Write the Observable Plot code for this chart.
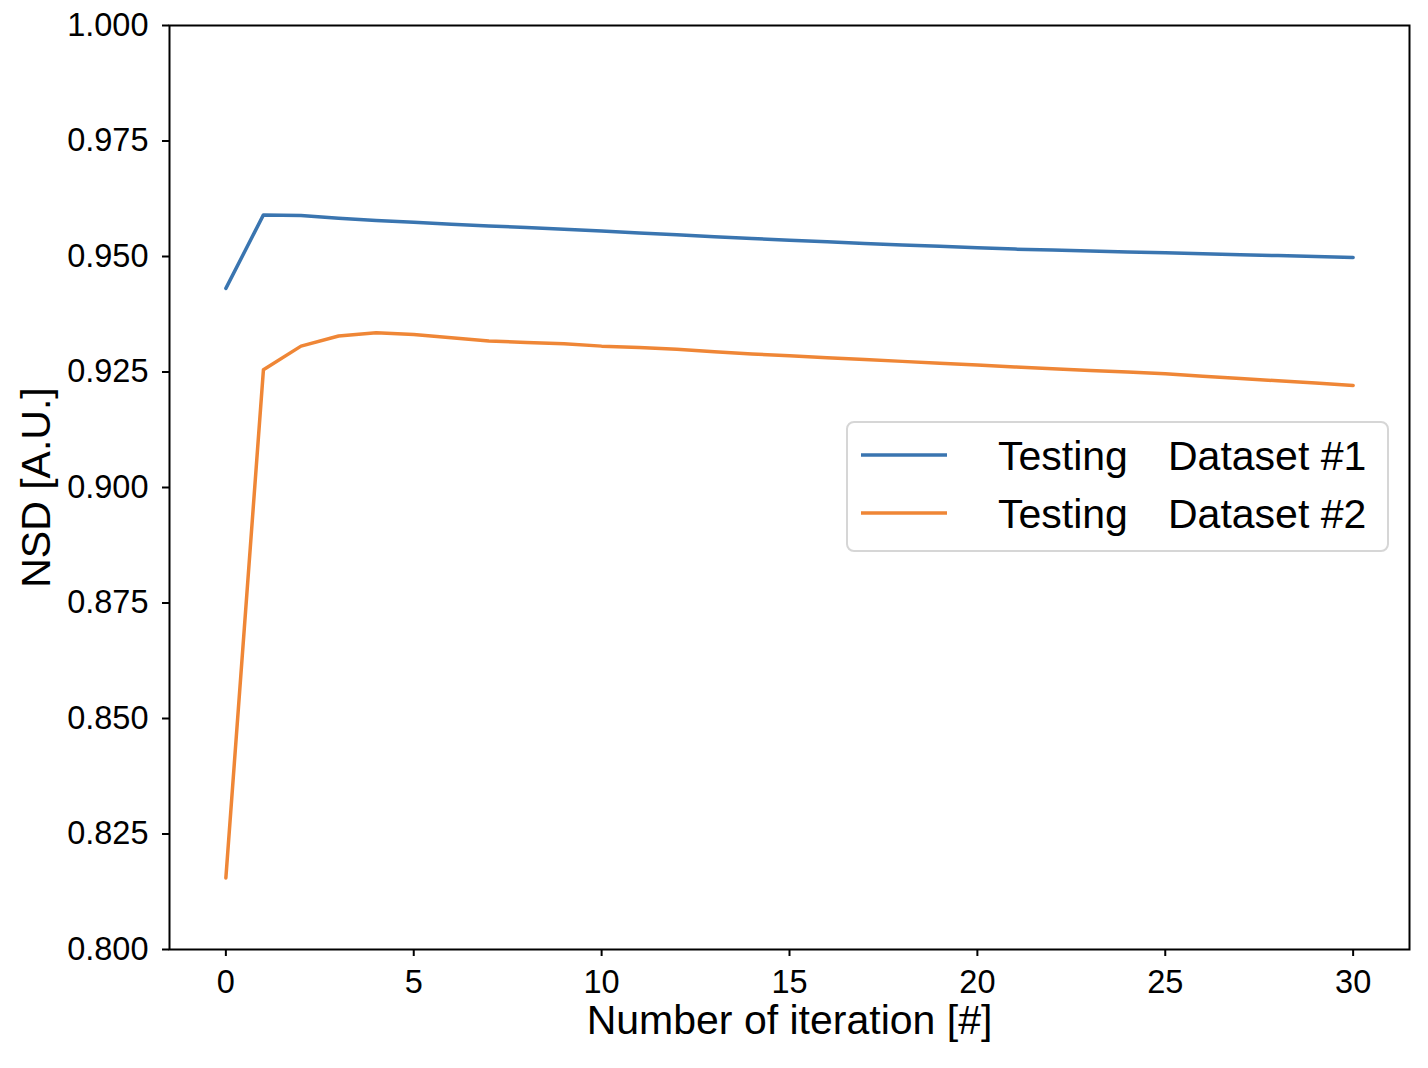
<!DOCTYPE html>
<html>
<head>
<meta charset="utf-8">
<script src="https://cdn.jsdelivr.net/npm/d3@7"></script>
<script src="https://cdn.jsdelivr.net/npm/@observablehq/plot@0.6"></script>
<style>
  html, body { margin: 0; padding: 0; background: #fff; }
  #wrap { position: relative; width: 1428px; height: 1068px; font-family: "Liberation Sans", Arial, sans-serif; }
  #legend { position: absolute; left: 0; top: 0; pointer-events: none; }
</style>
</head>
<body>
<div id="wrap"></div>
<script>
const iterations = d3.range(0, 31);
const nsdDataset1 = [0.9431, 0.9590, 0.9589, 0.9583, 0.9578, 0.9574, 0.9570, 0.9566, 0.9563, 0.9559, 0.9555,
  0.9551, 0.9547, 0.9543, 0.9539, 0.9535, 0.9532, 0.9528, 0.9525, 0.9522, 0.9519,
  0.9516, 0.9514, 0.9512, 0.9510, 0.9508, 0.9506, 0.9504, 0.9502, 0.9500, 0.9498];
const nsdDataset2 = [0.8155, 0.9255, 0.9306, 0.9328, 0.9335, 0.9331, 0.9324, 0.9317, 0.9314, 0.9311, 0.9306,
  0.9303, 0.9299, 0.9294, 0.9289, 0.9285, 0.9281, 0.9277, 0.9273, 0.9269, 0.9265,
  0.9261, 0.9257, 0.9253, 0.9250, 0.9246, 0.9241, 0.9236, 0.9231, 0.9226, 0.9221];
const seriesNames = ["Testing Dataset #1", "Testing Dataset #2"];
const legendFirst = ["Testing", "Testing"];
const legendSecond = ["Dataset #1", "Dataset #2"];
const seriesColors = ["#3a75b0", "#ef8636"];
const yTicks = [0.800, 0.825, 0.850, 0.875, 0.900, 0.925, 0.950, 0.975, 1.000];
const xTicks = [0, 5, 10, 15, 20, 25, 30];
const xLabel = "Number of iteration [#]";
const yLabel = "NSD [A.U.]";

const rows = [];
iterations.forEach((it, i) => {
  rows.push({iter: it, nsd: nsdDataset1[i], series: seriesNames[0]});
  rows.push({iter: it, nsd: nsdDataset2[i], series: seriesNames[1]});
});

const W = 1428, H = 1068;
const mL = 169, mR = 19, mT = 25, mB = 119;

const chart = Plot.plot({
  width: W, height: H,
  marginLeft: mL, marginRight: mR, marginTop: mT, marginBottom: mB,
  style: {fontFamily: "Liberation Sans, Arial, sans-serif", background: "#fff", color: "#000"},
  x: {domain: [-1.5, 31.5]},
  y: {domain: [0.8, 1.0]},
  color: {domain: seriesNames, range: seriesColors},
  marks: [
    Plot.line(rows, {x: "iter", y: "nsd", z: "series", stroke: "series", strokeWidth: 3.5}),
    Plot.frame({stroke: "#000", strokeWidth: 2}),
    Plot.axisY({ticks: yTicks, tickFormat: d3.format(".3f"), tickSize: 7, tickPadding: 14,
      fontSize: 32.5, strokeWidth: 2, label: null}),
    Plot.axisX({ticks: xTicks, tickFormat: d3.format("d"), tickSize: 7, tickPadding: 13,
      fontSize: 32.5, strokeWidth: 2, label: null}),
    Plot.text([xLabel], {frameAnchor: "bottom", lineAnchor: "middle", textAnchor: "middle",
      dy: 71, fontSize: 41, fill: "#000"}),
    Plot.text([yLabel], {frameAnchor: "left", lineAnchor: "middle", textAnchor: "middle",
      dx: -133, rotate: -90, fontSize: 41, fill: "#000"})
  ]
});

const wrap = document.getElementById("wrap");
wrap.appendChild(chart);

// Legend overlay
const lg = d3.select(wrap).append("svg")
  .attr("id", "legend").attr("width", W).attr("height", H)
  .attr("style", "position:absolute;left:0;top:0;font-family:'Liberation Sans',Arial,sans-serif");
lg.append("rect").attr("x", 847).attr("y", 422).attr("width", 541).attr("height", 129)
  .attr("rx", 7).attr("fill", "rgba(255,255,255,0.8)").attr("stroke", "#d6d6d6").attr("stroke-width", 2);
const rowY = [455, 513];
seriesNames.forEach((name, i) => {
  lg.append("line").attr("x1", 861).attr("x2", 947).attr("y1", rowY[i]).attr("y2", rowY[i])
    .attr("stroke", seriesColors[i]).attr("stroke-width", 3.5);
  const t = lg.append("text").attr("x", 998).attr("y", rowY[i] + 14.7)
    .attr("font-size", 41).attr("fill", "#000");
  t.append("tspan").text(legendFirst[i] + " ");
  t.append("tspan").attr("x", 1168).text(legendSecond[i]);
});
</script>
</body>
</html>
